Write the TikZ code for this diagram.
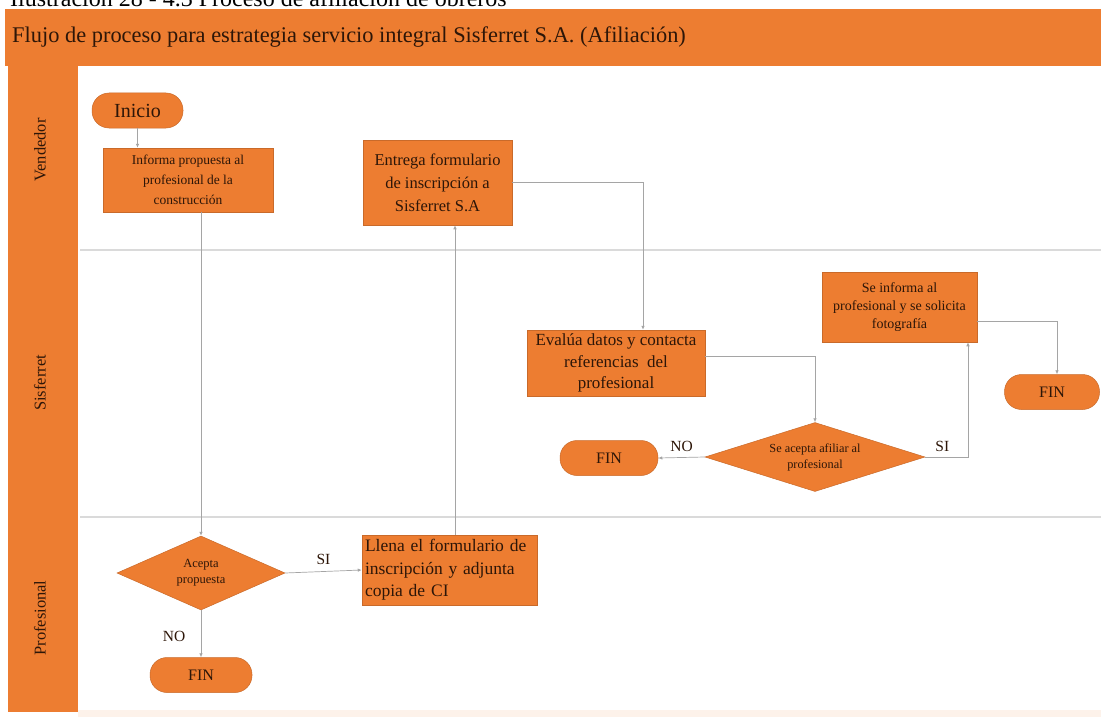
\documentclass[tikz,border=0pt]{standalone}
\usepackage{fontspec}
\setmainfont{Liberation Serif}
\usetikzlibrary{shapes.geometric,arrows.meta}
\definecolor{orng}{RGB}{237,125,49}
\definecolor{txt}{RGB}{45,22,8}
\definecolor{conn}{RGB}{165,165,165}
\definecolor{lanel}{RGB}{218,218,218}
\begin{document}
\begin{tikzpicture}[x=1pt,y=-1pt,
  box/.style={draw=orng!85!black, line width=0.5pt, fill=orng, text=txt, align=center, inner sep=2pt},
  term/.style={box, rounded corners=17pt, minimum height=35pt},
  dec/.style={box, diamond, inner sep=0pt},
  conn/.style={draw=conn, line width=0.7pt, -{Latex[length=4pt,width=3.5pt]}},
  lbl/.style={text=txt, font=\fontsize{15.5}{17}\selectfont},
  lane/.style={text=txt, rotate=90, font=\fontsize{16.5}{18}\selectfont}]
\useasboundingbox (0,0) rectangle (1101,717);
\clip (0,0) rectangle (1101,717);
% background
\fill[white] (0,0) rectangle (1101,717);
\fill[orng!10] (78,710) rectangle (1101,717);
\node[anchor=base west, inner sep=0pt, font=\fontsize{24}{26}\selectfont] (cap) at (10,7) {Ilustración 28 - 4.3 Proceso de afiliación de obreros};
\fill[orng] (5,9) rectangle (1101,66);
\fill[orng] (8,66) rectangle (78,712);
\node[anchor=west, inner sep=0pt, text=txt, font=\fontsize{22.4}{24}\selectfont] (title) at (12,37) {Flujo de proceso para estrategia servicio integral Sisferret S.A. (Afiliación)};
% lane separators
\draw[lanel, line width=2pt] (80,250) -- (1101,250);
\draw[lanel, line width=2pt] (80,517) -- (1101,517);
\node[lane] (lv) at (40,150) {Vendedor};
\node[lane] (ls) at (40,383) {Sisferret};
\node[lane] (lp) at (40,618) {Profesional};
% nodes
\node[term, minimum width=91pt, font=\fontsize{20}{22}\selectfont] (inicio) at (137.5,110.5) {Inicio};
\node[box, minimum width=170pt, minimum height=64pt, font=\fontsize{13.5}{20}\selectfont] (informa) at (188,180) {Informa propuesta al\\profesional de la\\construcción};
\node[box, minimum width=149pt, minimum height=85pt, font=\fontsize{16.5}{23}\selectfont] (entrega) at (437.5,182.5) {Entrega formulario\\de inscripción a\\Sisferret S.A};
\node[box, minimum width=178pt, minimum height=66pt, font=\fontsize{17}{21.5}\selectfont] (evalua) at (616,363) {Evalúa datos y contacta\\referencias\ \ del\\profesional};
\node[box, minimum width=155pt, minimum height=70pt, font=\fontsize{14}{18}\selectfont] (seinf) at (899.5,307) {Se informa al\\profesional y se solicita\\fotografía};
\node[term, minimum width=95pt, font=\fontsize{16}{17}\selectfont] (finr) at (1052,392) {FIN};
\node[dec, aspect=3.2, minimum width=220pt, minimum height=69pt, font=\fontsize{12.3}{16}\selectfont] (dec2) at (815,457) {Se acepta afiliar al\\profesional};
\node[term, minimum width=98pt, font=\fontsize{16}{17}\selectfont] (finl) at (609,458) {FIN};
\node[dec, aspect=2.27, minimum width=168pt, minimum height=74pt, font=\fontsize{12.5}{16}\selectfont] (acepta) at (201,573) {Acepta\\propuesta};
\node[box, minimum width=175pt, minimum height=70pt, align=left, text width=169pt, font=\fontsize{17.5}{22.5}\selectfont] (llena) at (449.5,570) {Llena el formulario de\\inscripción y adjunta\\copia de CI};
\node[term, minimum width=102pt, font=\fontsize{16}{17}\selectfont] (finb) at (201,675) {FIN};
% connectors
\draw[conn] (inicio.south) -- (inicio.south |- informa.north);
\draw[conn] (informa.south -| acepta.north) -- (acepta.north);
\draw[conn] (acepta.east) -- node[lbl, above=3pt] (si1) {SI} (llena.west);
\draw[conn] (acepta.south) -- node[lbl, left=12pt, pos=0.55] (no1) {NO} (finb.north);
\draw[conn] ([xshift=5.5pt]llena.north) -- ([xshift=5.5pt]llena.north |- entrega.south);
\draw[conn] (entrega.east) -| ([xshift=27pt]evalua.north);
\draw[conn] ([yshift=7pt]evalua.east) -| (dec2.north);
\draw[conn] (dec2.west) -- node[lbl, above=2pt] (no2) {NO} (finl.east);
\draw[conn] (dec2.east) -| ([xshift=68.5pt]seinf.south) node[lbl, pos=0.2, above=2pt] (si2) {SI};
\draw[conn] ([yshift=-14pt]seinf.east) -| ([xshift=5pt]finr.north);
\end{tikzpicture}
\end{document}
